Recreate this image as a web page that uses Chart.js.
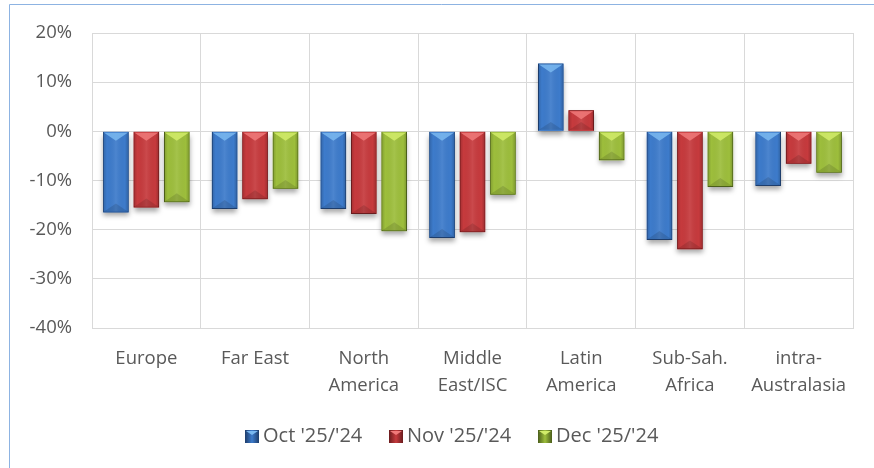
<!DOCTYPE html>
<html>
<head>
<meta charset="utf-8">
<script src="https://cdn.jsdelivr.net/npm/chart.js@4/dist/chart.umd.min.js"></script>
<style>
html,body{margin:0;padding:0;background:#fff;}
#wrap{position:relative;width:874px;height:468px;}
</style>
</head>
<body>
<div id="wrap"><canvas id="c" width="874" height="468"></canvas></div>
<script>
const categories = [["Europe"], ["Far East"], ["North", "America"], ["Middle", "East/ISC"], ["Latin", "America"], ["Sub-Sah.", "Africa"], ["intra-", "Australasia"]];
const seriesNames = ["Oct '25/'24", "Nov '25/'24", "Dec '25/'24"];
const octValues = [-16.5, -15.8, -15.8, -21.7, 13.8, -22.1, -11.1];
const novValues = [-15.5, -13.8, -16.8, -20.5, 4.3, -24.0, -6.6];
const decValues = [-14.4, -11.7, -20.3, -12.9, -5.9, -11.3, -8.4];
const yTicks = [20, 10, 0, -10, -20, -30, -40];

const fills = ["#3d7bcb", "#c63a3d", "#9dbe3c"];
const borders = ["#1e3d6b", "#6a1c1e", "#4b5e1b"];
const lights = ["#7ab8f0", "#f07a7a", "#d2ec6a"];

const font = "'Open Sans', 'Liberation Sans', sans-serif";
const textColor = '#595959';

const framePlugin = {
  id: 'frame',
  beforeDraw(chart) {
    const ctx = chart.ctx;
    ctx.save();
    ctx.strokeStyle = '#8db3e2';
    ctx.lineWidth = 1;
    ctx.beginPath();
    ctx.moveTo(9.5, 468);
    ctx.lineTo(9.5, 4.5);
    ctx.lineTo(874, 4.5);
    ctx.stroke();
    ctx.restore();
  }
};

function barBox(el) {
  const p = el.getProps(['x', 'y', 'base', 'width'], true);
  const left = p.x - p.width / 2, right = p.x + p.width / 2;
  const top = Math.min(p.y, p.base), bot = Math.max(p.y, p.base);
  return { x: p.x, left, right, top, bot, w: p.width, h: bot - top };
}

const bevelPlugin = {
  id: 'bevel',
  beforeDatasetDraw(chart, args) {
    const ctx = chart.ctx;
    ctx.save();
    ctx.shadowColor = 'rgba(0,0,0,0.35)';
    ctx.shadowBlur = 5;
    ctx.shadowOffsetX = 0;
    ctx.shadowOffsetY = 4;
    ctx.fillStyle = fills[args.index];
    args.meta.data.forEach(el => {
      const b = barBox(el);
      ctx.fillRect(b.left, b.top, b.w, b.h);
    });
    ctx.restore();
  },
  afterDatasetDraw(chart, args) {
    const ctx = chart.ctx;
    const i = args.index;
    ctx.save();
    args.meta.data.forEach(el => {
      const b = barBox(el);
      const g = ctx.createLinearGradient(b.left, 0, b.right, 0);
      g.addColorStop(0, 'rgba(0,0,0,0.18)');
      g.addColorStop(0.15, 'rgba(0,0,0,0)');
      g.addColorStop(0.5, 'rgba(255,255,255,0.08)');
      g.addColorStop(0.85, 'rgba(0,0,0,0)');
      g.addColorStop(1, 'rgba(0,0,0,0.22)');
      ctx.fillStyle = g;
      ctx.fillRect(b.left + 1, b.top + 1, b.w - 2, b.h - 2);
      const th = Math.min(b.w * 0.35, b.h / 2);
      ctx.fillStyle = lights[i];
      ctx.globalAlpha = 0.85;
      ctx.beginPath();
      ctx.moveTo(b.left + 1, b.top + 1);
      ctx.lineTo(b.right - 1, b.top + 1);
      ctx.lineTo(b.x, b.top + th);
      ctx.closePath();
      ctx.fill();
      ctx.globalAlpha = 1;
      ctx.fillStyle = 'rgba(0,0,0,0.12)';
      ctx.beginPath();
      ctx.moveTo(b.left + 1, b.bot - 1);
      ctx.lineTo(b.right - 1, b.bot - 1);
      ctx.lineTo(b.x, b.bot - th);
      ctx.closePath();
      ctx.fill();
    });
    ctx.restore();
  }
};

const legendPlugin = {
  id: 'customLegend',
  afterDraw(chart) {
    const ctx = chart.ctx;
    ctx.save();
    ctx.font = "20px " + font;
    const boxW = 14, boxH = 13, gapText = 4, gapItem = 27;
    const items = chart.data.datasets.map((d, i) => ({
      text: d.label, w: boxW + gapText + ctx.measureText(d.label).width, i
    }));
    const total = items.reduce((s, it) => s + it.w, 0) + gapItem * (items.length - 1);
    const cx = 451.5, cy = 436.5;
    let x = cx - total / 2;
    items.forEach(it => {
      const bx = Math.round(x), by = Math.round(cy - boxH / 2);
      const g = ctx.createLinearGradient(bx, 0, bx + boxW, 0);
      g.addColorStop(0, borders[it.i]);
      g.addColorStop(0.5, fills[it.i]);
      g.addColorStop(1, borders[it.i]);
      ctx.fillStyle = g;
      ctx.fillRect(bx, by, boxW, boxH);
      ctx.fillStyle = lights[it.i];
      ctx.beginPath();
      ctx.moveTo(bx + 1, by + 1);
      ctx.lineTo(bx + boxW - 1, by + 1);
      ctx.lineTo(bx + boxW / 2, by + 5);
      ctx.closePath();
      ctx.fill();
      ctx.fillStyle = textColor;
      ctx.textBaseline = 'middle';
      ctx.textAlign = 'left';
      ctx.fillText(it.text, bx + boxW + gapText, cy);
      x += it.w + gapItem;
    });
    ctx.restore();
  }
};

new Chart(document.getElementById('c'), {
  type: 'bar',
  data: {
    labels: categories,
    datasets: [
      { label: seriesNames[0], data: octValues, backgroundColor: fills[0], borderColor: borders[0], borderWidth: 1 },
      { label: seriesNames[1], data: novValues, backgroundColor: fills[1], borderColor: borders[1], borderWidth: 1 },
      { label: seriesNames[2], data: decValues, backgroundColor: fills[2], borderColor: borders[2], borderWidth: 1 }
    ]
  },
  options: {
    responsive: false,
    animation: false,
    devicePixelRatio: 1,
    layout: { padding: { left: 10, top: 33, right: 21, bottom: 45 } },
    datasets: { bar: { categoryPercentage: 0.84, barPercentage: 0.84 } },
    plugins: {
      legend: { display: false },
      tooltip: { enabled: false }
    },
    scales: {
      x: {
        grid: { color: '#d9d9d9', lineWidth: 1, drawTicks: false, offset: true },
        border: { color: '#d9d9d9' },
        ticks: { font: { family: font, size: 18.5, lineHeight: 1.46 }, color: textColor, padding: 17, maxRotation: 0, autoSkip: false },
        afterFit(s) { s.height = 95; }
      },
      y: {
        min: -40, max: 20,
        afterBuildTicks(s) { s.ticks = yTicks.map(v => ({ value: v })); },
        grid: { color: '#d9d9d9', lineWidth: 1, drawTicks: false },
        border: { color: '#d9d9d9' },
        ticks: { font: { family: font, size: 18.5 }, color: textColor, padding: 20, callback: v => v + '%' },
        afterFit(s) { s.width = 82; }
      }
    }
  },
  plugins: [framePlugin, bevelPlugin, legendPlugin]
});
</script>
</body>
</html>
